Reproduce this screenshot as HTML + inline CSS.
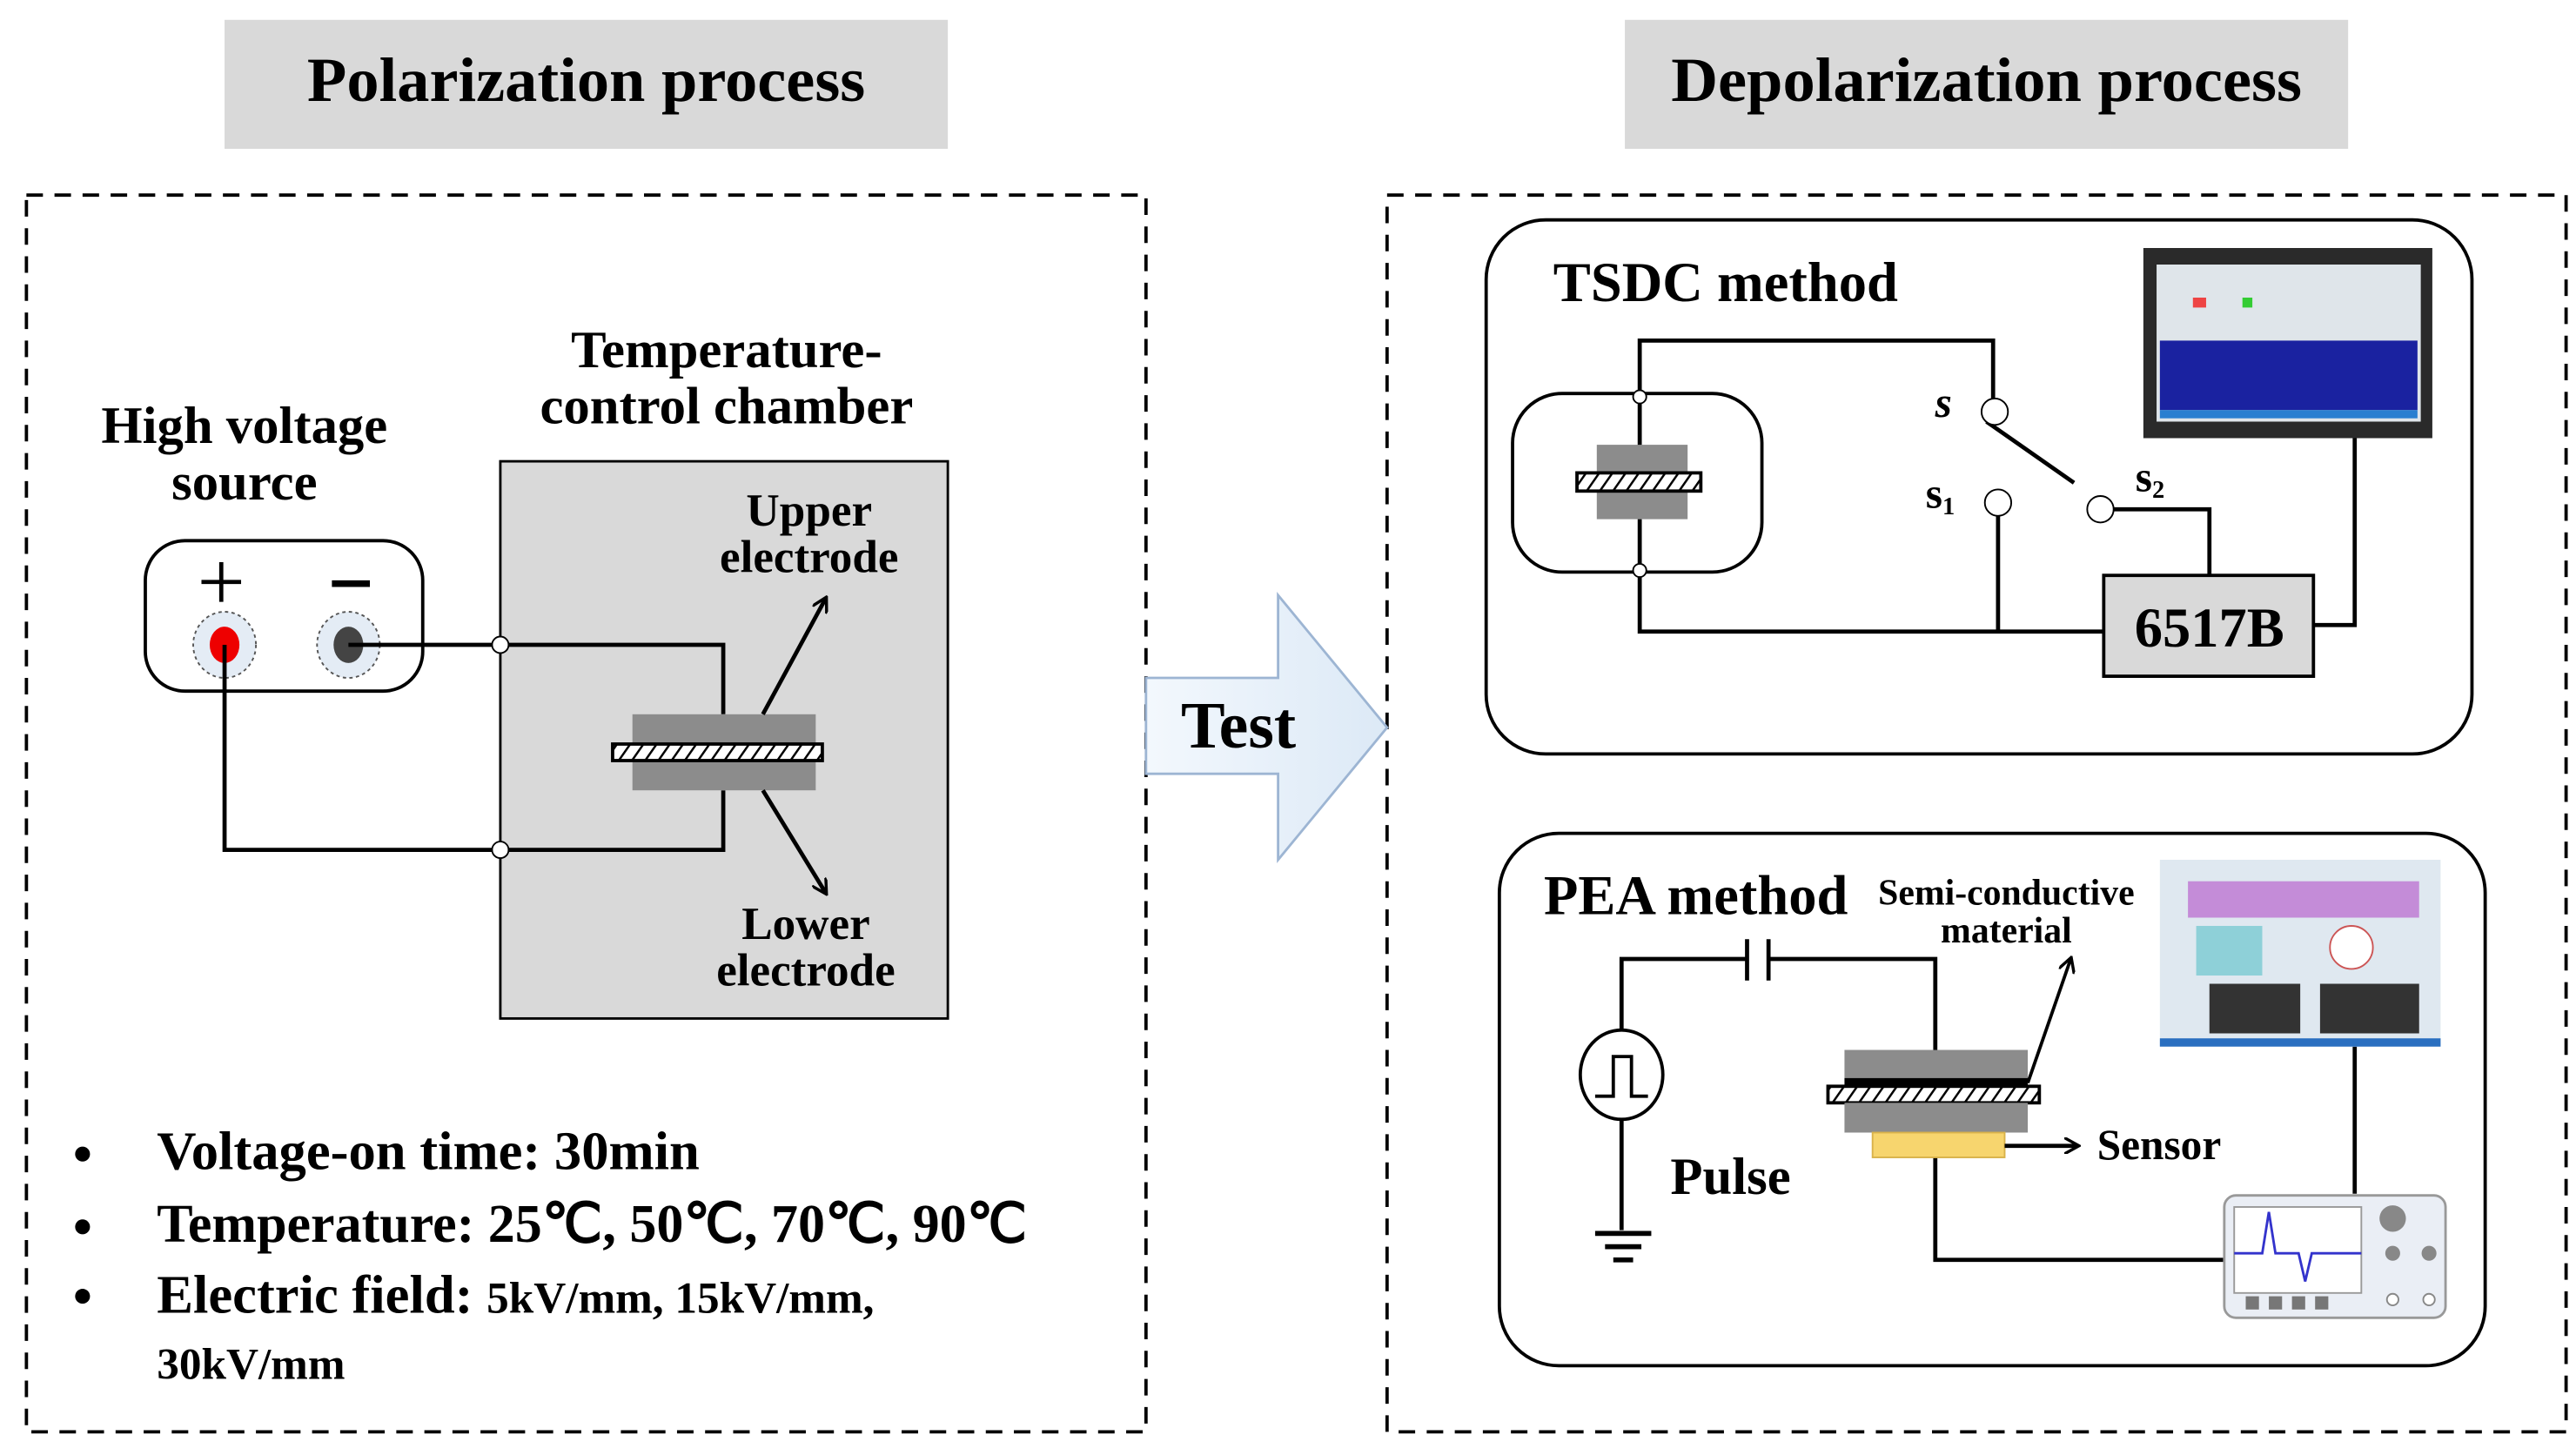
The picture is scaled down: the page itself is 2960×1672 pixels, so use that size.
<!DOCTYPE html>
<html><head><meta charset="utf-8"><style>html,body{margin:0;padding:0;background:#fff}svg{display:block}</style></head><body>
<svg width="2960" height="1672" viewBox="0 0 1560 880" preserveAspectRatio="none" xmlns="http://www.w3.org/2000/svg" font-family="'Liberation Serif', serif" font-weight="bold">
<defs>
<pattern id="h" width="8" height="10" patternUnits="userSpaceOnUse" patternTransform="skewX(-35)"><rect width="8" height="10" fill="#fff"/><rect x="0" width="1.6" height="10" fill="#000"/></pattern>
<marker id="ar" markerWidth="10" markerHeight="10" refX="8" refY="5" orient="auto" markerUnits="userSpaceOnUse"><path d="M0,0 L9,5 L0,10" fill="none" stroke="#000" stroke-width="1.8"/></marker>
<linearGradient id="ag" x1="0" x2="1"><stop offset="0" stop-color="#f3f8fd"/><stop offset="1" stop-color="#dce9f6"/></linearGradient>
</defs>
<rect x="136" y="12" width="438" height="78" fill="#d9d9d9"/>
<text x="355" y="61" font-size="38" text-anchor="middle" textLength="338" lengthAdjust="spacingAndGlyphs">Polarization process</text>
<rect x="984" y="12" width="438" height="78" fill="#d9d9d9"/>
<text x="1203" y="61" font-size="38" text-anchor="middle" textLength="382" lengthAdjust="spacingAndGlyphs">Depolarization process</text>
<rect x="16" y="118" width="678" height="748" fill="none" stroke="#000" stroke-width="2" stroke-dasharray="10,7"/>
<rect x="840" y="118" width="714" height="748" fill="none" stroke="#000" stroke-width="2" stroke-dasharray="10,7"/>

<text x="148" y="268" font-size="32" text-anchor="middle">High voltage</text>
<text x="148" y="302" font-size="32" text-anchor="middle">source</text>
<text x="440" y="222" font-size="32" text-anchor="middle">Temperature-</text>
<text x="440" y="256" font-size="32" text-anchor="middle">control chamber</text>
<rect x="303" y="279" width="271" height="337" fill="#d9d9d9" stroke="#000" stroke-width="1.5"/>
<rect x="88" y="327" width="168" height="91" rx="24" fill="#fff" stroke="#000" stroke-width="2"/>
<path d="M122,352 H146 M134,340 V364" stroke="#000" stroke-width="2.5"/>
<path d="M201,353 H224" stroke="#000" stroke-width="4"/>
<ellipse cx="136" cy="390" rx="19" ry="20" fill="#e4ecf5" stroke="#555" stroke-dasharray="2,2"/>
<ellipse cx="136" cy="390" rx="9" ry="11" fill="#e00"/>
<ellipse cx="211" cy="390" rx="19" ry="20" fill="#e4ecf5" stroke="#555" stroke-dasharray="2,2"/>
<ellipse cx="211" cy="390" rx="9" ry="11" fill="#444"/>
<path d="M211,390 H438 V432 M136,390 V514 H438 V478" fill="none" stroke="#000" stroke-width="2.5"/>
<circle cx="303" cy="390" r="5" fill="#fff" stroke="#000"/>
<circle cx="303" cy="514" r="5" fill="#fff" stroke="#000"/>
<rect x="383" y="432" width="111" height="46" fill="#8c8c8c"/>
<rect x="371" y="450" width="127" height="10" fill="url(#h)" stroke="#000" stroke-width="2"/>
<line x1="462" y1="432" x2="500" y2="362" stroke="#000" stroke-width="2.5" marker-end="url(#ar)"/>
<line x1="462" y1="478" x2="500" y2="540" stroke="#000" stroke-width="2.5" marker-end="url(#ar)"/>
<text x="490" y="318" font-size="28" text-anchor="middle">Upper</text>
<text x="490" y="346" font-size="28" text-anchor="middle">electrode</text>
<text x="488" y="568" font-size="28" text-anchor="middle">Lower</text>
<text x="488" y="596" font-size="28" text-anchor="middle">electrode</text>
<circle cx="50" cy="698" r="4.5"/><circle cx="50" cy="742" r="4.5"/><circle cx="50" cy="784" r="4.5"/>
<text x="95" y="707" font-size="33">Voltage-on time: 30min</text>
<text x="95" y="751" font-size="33" textLength="527" lengthAdjust="spacingAndGlyphs">Temperature: 25℃, 50℃, 70℃, 90℃</text>
<text x="95" y="794" font-size="33">Electric field: <tspan font-size="27">5kV/mm, 15kV/mm,</tspan></text>
<text x="95" y="834" font-size="27">30kV/mm</text>

<polygon points="694,410 774,410 774,360 840,440 774,520 774,468 694,468" fill="url(#ag)" stroke="#9db5d3" stroke-width="1.5"/>
<text x="750" y="452" font-size="40" text-anchor="middle">Test</text>

<rect x="900" y="133" width="597" height="323" rx="36" fill="none" stroke="#000" stroke-width="2"/>
<text x="1045" y="182" font-size="34" text-anchor="middle">TSDC method</text>
<rect x="916" y="238" width="151" height="108" rx="30" fill="none" stroke="#000" stroke-width="2"/>
<rect x="967" y="269" width="55" height="45" fill="#8c8c8c"/>
<rect x="955" y="286" width="75" height="11" fill="url(#h)" stroke="#000" stroke-width="2"/>
<path d="M993,269 V206 H1207 V242 M993,314 V382 H1274 M1210,311 V382 M1280,308 H1338 V348 M1401,378 H1426 V265" fill="none" stroke="#000" stroke-width="2.5"/>
<line x1="1203" y1="255" x2="1256" y2="292" stroke="#000" stroke-width="2.5"/>
<circle cx="993" cy="240" r="4" fill="#fff" stroke="#000"/><circle cx="993" cy="345" r="4" fill="#fff" stroke="#000"/>
<circle cx="1208" cy="249" r="8" fill="#fff" stroke="#000"/>
<circle cx="1210" cy="304" r="8" fill="#fff" stroke="#000"/>
<circle cx="1272" cy="308" r="8" fill="#fff" stroke="#000"/>
<text x="1177" y="252" font-size="26" font-style="italic" text-anchor="middle">s</text>
<text x="1175" y="307" font-size="26" text-anchor="middle">s<tspan font-size="15" dy="4">1</tspan></text>
<text x="1302" y="297" font-size="26" text-anchor="middle">s<tspan font-size="15" dy="4">2</tspan></text>
<rect x="1274" y="348" width="127" height="61" fill="#d9d9d9" stroke="#000" stroke-width="2"/>
<text x="1338" y="391" font-size="34" text-anchor="middle">6517B</text>
<rect x="1298" y="150" width="175" height="115" fill="#2a2a2a"/>
<rect x="1306" y="160" width="160" height="95" fill="#dfe5ea"/>
<rect x="1308" y="206" width="156" height="42" fill="#1a22a0"/>
<rect x="1308" y="248" width="156" height="5" fill="#2a7fd0"/>
<rect x="1328" y="180" width="8" height="6" fill="#e44"/><rect x="1358" y="180" width="6" height="6" fill="#3c3"/>

<rect x="908" y="504" width="597" height="322" rx="36" fill="none" stroke="#000" stroke-width="2"/>
<text x="1027" y="553" font-size="34" text-anchor="middle">PEA method</text>
<text x="1215" y="547" font-size="22" text-anchor="middle">Semi-conductive</text>
<text x="1215" y="570" font-size="22" text-anchor="middle">material</text>
<path d="M982,623 V580 H1058 M1072,580 H1172 V635 M982,677 V744 M1172,700 V762 H1348 M1426,633 V722" fill="none" stroke="#000" stroke-width="2.5"/>
<path d="M1058,568 V593 M1071,568 V593" stroke="#000" stroke-width="2.5"/>
<path d="M966,746 H1000 M972,754 H994 M977,762 H989" stroke="#000" stroke-width="3"/>
<ellipse cx="982" cy="650" rx="25" ry="27" fill="#fff" stroke="#000" stroke-width="2"/>
<path d="M966,663 H977 V639 H988 V663 H998" fill="none" stroke="#000" stroke-width="2"/>
<text x="1048" y="722" font-size="32" text-anchor="middle">Pulse</text>
<rect x="1117" y="635" width="111" height="17" fill="#8c8c8c"/>
<rect x="1117" y="652" width="111" height="5" fill="#000"/>
<rect x="1107" y="657" width="128" height="10" fill="url(#h)" stroke="#000" stroke-width="2"/>
<rect x="1117" y="667" width="111" height="18" fill="#8c8c8c"/>
<rect x="1134" y="685" width="80" height="15" fill="#f7d56e" stroke="#d9b24a"/>
<line x1="1214" y1="693" x2="1258" y2="693" stroke="#000" stroke-width="2.5" marker-end="url(#ar)"/>
<text x="1270" y="701" font-size="26">Sensor</text>
<line x1="1228" y1="655" x2="1254" y2="580" stroke="#000" stroke-width="2" marker-end="url(#ar)"/>
<rect x="1308" y="520" width="170" height="113" fill="#dfe8f0"/>
<rect x="1325" y="533" width="140" height="22" fill="#c48cd8"/>
<rect x="1330" y="560" width="40" height="30" fill="#8ed0d8"/>
<circle cx="1424" cy="573" r="13" fill="#fff" stroke="#c55"/>
<rect x="1338" y="595" width="55" height="30" fill="#333"/>
<rect x="1405" y="595" width="60" height="30" fill="#333"/>
<rect x="1308" y="628" width="170" height="5" fill="#2a6fc0"/>
<rect x="1347" y="723" width="134" height="74" rx="7" fill="#eaeef5" stroke="#999" stroke-width="1.5"/>
<rect x="1353" y="730" width="77" height="52" fill="#fff" stroke="#999"/>
<path d="M1353,758 H1370 L1374,733 L1378,758 H1392 L1396,775 L1400,758 H1430" fill="none" stroke="#33c" stroke-width="1.5"/>
<circle cx="1449" cy="737" r="8" fill="#888"/><circle cx="1449" cy="758" r="4.5" fill="#888"/><circle cx="1471" cy="758" r="4.5" fill="#888"/>
<circle cx="1449" cy="786" r="3.5" fill="#fff" stroke="#888"/><circle cx="1471" cy="786" r="3.5" fill="#fff" stroke="#888"/>
<rect x="1360" y="784" width="8" height="8" fill="#777"/><rect x="1374" y="784" width="8" height="8" fill="#777"/><rect x="1388" y="784" width="8" height="8" fill="#777"/><rect x="1402" y="784" width="8" height="8" fill="#777"/>
</svg>
</body></html>
